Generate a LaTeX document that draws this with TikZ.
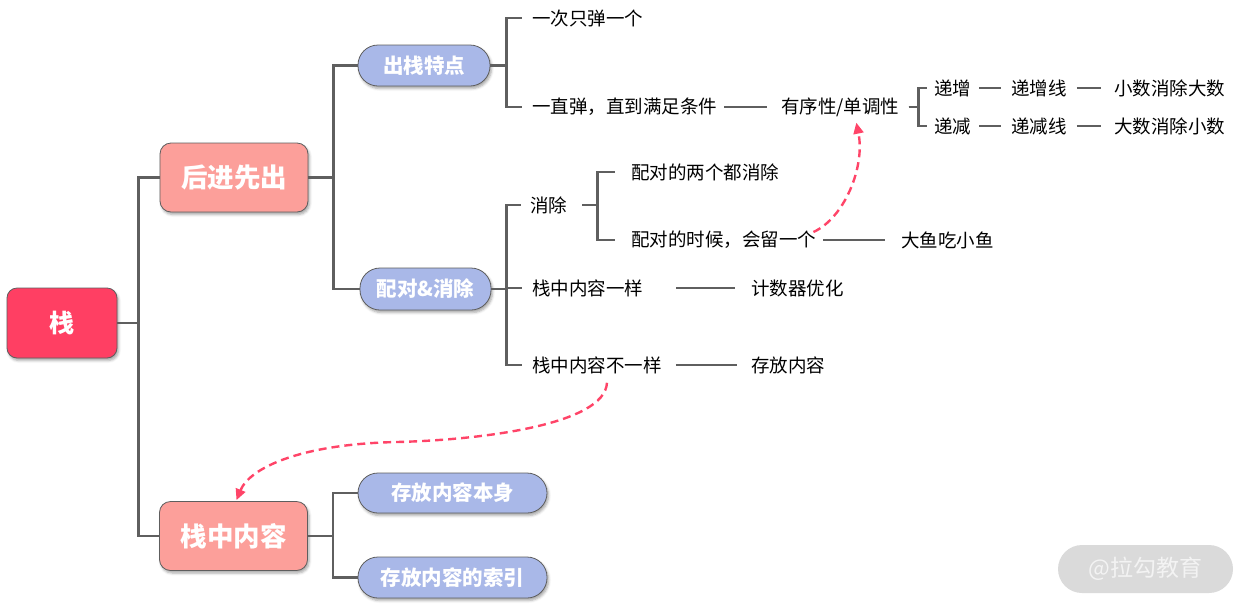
\documentclass[tikz,border=0pt]{standalone}
\usepackage{fontspec}
\setmainfont{Noto Sans CJK SC}
\usetikzlibrary{arrows.meta,shadows.blur}
\definecolor{rootc}{HTML}{FF3F63}
\definecolor{salm}{HTML}{FC9F9A}
\definecolor{bluec}{HTML}{A9B8E8}
\definecolor{edgec}{HTML}{5E5E5E}
\definecolor{linec}{HTML}{5F5F5F}
\definecolor{pinkc}{HTML}{FF4468}
\definecolor{wmc}{HTML}{DADADA}
\definecolor{wmt}{HTML}{F3F3F3}
\begin{document}
\begin{tikzpicture}[x=1pt,y=-1pt,
  box/.style={draw=edgec, line width=0.8pt, text=white, align=center, inner sep=0pt,
    blur shadow={shadow xshift=1.5pt, shadow yshift=-2.5pt, shadow blur radius=2.5pt, shadow opacity=35}},
  rootbox/.style={box, fill=rootc, rounded corners=10pt, minimum width=110pt, minimum height=70pt,
    font=\fontsize{25}{30}\selectfont\bfseries},
  lvlbox/.style={box, fill=salm, rounded corners=11pt, minimum width=148pt, minimum height=69pt,
    font=\fontsize{26.5}{31}\selectfont\bfseries},
  pill/.style={box, fill=bluec, rounded corners=20pt, minimum height=41pt,
    font=\fontsize{20.5}{24}\selectfont\bfseries},
  txt/.style={anchor=west, inner sep=0pt, text=black, font=\fontsize{18.5}{22}\selectfont},
  conn/.style={draw=linec, line width=2.4pt},
  dasharrow/.style={draw=pinkc, line width=2.4pt, dash pattern=on 8pt off 5pt,
    -{Triangle[length=11pt,width=10pt]}},
  wm/.style={fill=wmc, rounded corners=24pt, minimum width=175pt, minimum height=48pt, inner sep=0pt,
    text=wmt, font=\fontsize{23}{27}\selectfont}
]
\useasboundingbox (0,0) rectangle (1250,611);

% watermark
\node[wm] (wmark) at (1145.5,569) {@拉勾教育};

% main boxes
\node[rootbox] (root) at (62,323) {栈};
\node[lvlbox] (hj) at (234,177.5) {后进先出};
\node[lvlbox] (zn) at (233.5,536) {栈中内容};
\node[pill, minimum width=132pt] (cz) at (424,65.5) {出栈特点};
\node[pill, minimum width=131pt, minimum height=42pt] (pd) at (425.5,289) {配对\&消除};
\node[pill, minimum width=189pt, minimum height=40pt] (b1) at (452.5,493) {存放内容本身};
\node[pill, minimum width=189pt] (b2) at (452.5,577.5) {存放内容的索引};

% text nodes
\node[txt] (t1) at (532,18) {一次只弹一个};
\node[txt] (t2) at (532,107) {一直弹，直到满足条件};
\node[txt] (t3) at (781,107) {有序性/单调性};
\node[txt] (u1) at (934,88) {递增};
\node[txt] (u2) at (1011,88) {递增线};
\node[txt] (u3) at (1114,88) {小数消除大数};
\node[txt] (d1) at (934,126) {递减};
\node[txt] (d2) at (1011,126) {递减线};
\node[txt] (d3) at (1114,126) {大数消除小数};
\node[txt] (v1) at (530,205) {消除};
\node[txt] (w1) at (631,172) {配对的两个都消除};
\node[txt] (w2) at (631,240) {配对的时候，会留一个};
\node[txt] (w3) at (901,240) {大鱼吃小鱼};
\node[txt] (v4) at (532,288) {栈中内容一样};
\node[txt] (v5) at (751,288) {计数器优化};
\node[txt] (v6) at (532,365) {栈中内容不一样};
\node[txt] (v7) at (751,365) {存放内容};

% tree connectors
\draw[conn] (root.east) -- ++(21,0) |- (hj.west);
\draw[conn] (root.east) -- ++(21,0) |- (zn.west);
\draw[conn] (hj.east) -- ++(25,0) |- (cz.west);
\draw[conn] (hj.east) -- ++(25,0) |- (pd.west);
\draw[conn] (zn.east) -- ++(25,0) |- (b1.west);
\draw[conn] (zn.east) -- ++(25,0) |- (b2.west);

\draw[conn] (cz.east) -- ++(16,0) |- ([xshift=-10pt]t1.west);
\draw[conn] (cz.east) -- ++(16,0) |- ([xshift=-10pt]t2.west);
\draw[conn] ([xshift=7pt]t2.east) -- ([xshift=-14pt]t3.west);
\draw[conn] ([xshift=9pt]t3.east) -- ++(10,0) |- ([xshift=-7pt]u1.west);
\draw[conn] ([xshift=9pt]t3.east) -- ++(10,0) |- ([xshift=-7pt]d1.west);
\draw[conn] ([xshift=8pt]u1.east) -- ([xshift=-10pt]u2.west);
\draw[conn] ([xshift=10pt]u2.east) -- ([xshift=-13pt]u3.west);
\draw[conn] ([xshift=8pt]d1.east) -- ([xshift=-10pt]d2.west);
\draw[conn] ([xshift=10pt]d2.east) -- ([xshift=-13pt]d3.west);

\draw[conn] (pd.east) -- ++(15,0) |- ([xshift=-9pt]v1.west);
\draw[conn] (pd.east) -- ++(15,0) |- ([xshift=-10pt]v4.west);
\draw[conn] (pd.east) -- ++(15,0) |- ([xshift=-10pt]v6.west);
\draw[conn] ([xshift=15pt]v1.east) -- ++(15,0) |- ([xshift=-16pt]w1.west);
\draw[conn] ([xshift=15pt]v1.east) -- ++(15,0) |- ([xshift=-16pt]w2.west);
\draw[conn] ([xshift=7pt]w2.east) -- ([xshift=-16pt]w3.west);
\draw[conn] ([xshift=33pt]v4.east) -- ([xshift=-16pt]v5.west);
\draw[conn] ([xshift=14pt]v6.east) -- ([xshift=-14pt]v7.west);

% dashed arrows
\draw[dasharrow] ([xshift=-3pt,yshift=8pt]w2.east)
  .. controls +(31,-14) and +(9,44) .. ([xshift=16pt,yshift=-6pt]t3.south);
\draw[dasharrow] ([xshift=10pt,yshift=-9pt]v6.south)
  .. controls +(-2,42) and +(83,-2) .. (397,442)
  .. controls +(-97,2) and +(13,-32) .. ([xshift=3pt,yshift=1pt]zn.north);
\end{tikzpicture}
\end{document}
